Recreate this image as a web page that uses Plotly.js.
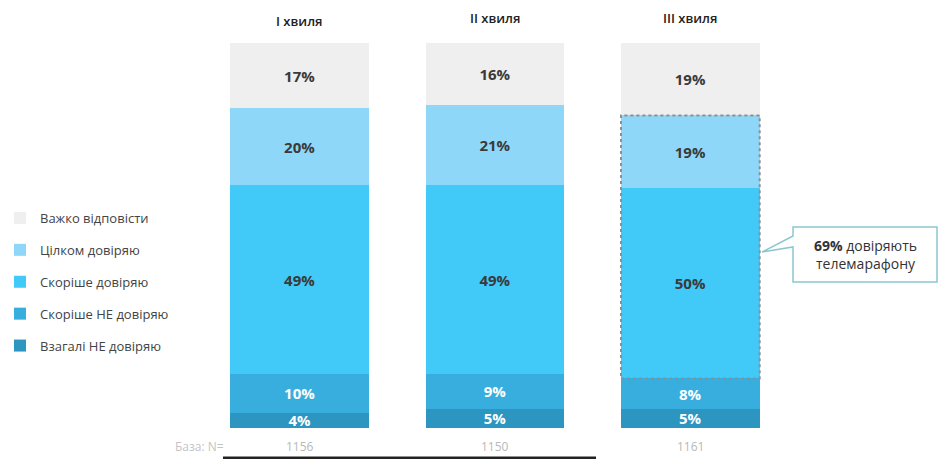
<!DOCTYPE html>
<html>
<head>
<meta charset="utf-8">
<script src="https://cdn.plot.ly/plotly-3.0.1.min.js"></script>
<style>html,body{margin:0;padding:0;background:#fff;}#chart{width:938px;height:459px;}</style>
</head>
<body>
<div id="chart"></div>
<script>
// ---- data ----
const waves = ["І хвиля", "ІІ хвиля", "ІІІ хвиля"];
const bases = [1156, 1150, 1161];
const seriesNames = ["Взагалі НЕ довіряю", "Скоріше НЕ довіряю", "Скоріше довіряю", "Цілком довіряю", "Важко відповісти"];
const notTrustAtAll = [4, 5, 5];
const ratherNotTrust = [10, 9, 8];
const ratherTrust = [49, 49, 50];
const fullyTrust = [20, 21, 19];
const hardToSay = [17, 16, 19];
const calloutValue = 69;

const seriesValues = [notTrustAtAll, ratherNotTrust, ratherTrust, fullyTrust, hardToSay];
const colors = ["#2c95c0", "#38aede", "#41c9f8", "#8fd7f8", "#efefef"];
const textColors = ["#ffffff", "#ffffff", "#3a3a3a", "#3a3a3a", "#3a3a3a"];
const FONT = "Open Sans, DejaVu Sans, sans-serif";

const xs = [0, 1, 2];
const BW = 0.71;

const traces = seriesValues.map((vals, i) => ({
  type: "bar",
  name: seriesNames[i],
  x: xs,
  y: vals,
  width: BW,
  marker: {color: colors[i], line: {width: 0}},
  text: vals.map(v => v + "%"),
  textposition: "inside",
  insidetextanchor: "middle",
  constraintext: "none",
  textfont: {family: FONT, size: 15, color: textColors[i], weight: 700},
  hoverinfo: "skip",
  legendgroup: "g" + i,
  legendrank: seriesValues.length - i
}));

// geometry helpers (pixels -> paper)
const L = 202, T = 43, W = 938 - L - 150, H = 459 - T - 31;
const px = p => (p - L) / W;
const py = p => (T + H - p) / H;

// dotted box around trust segments of last wave (normalized)
const last = 2;
const tot = seriesValues.reduce((s, a) => s + a[last], 0);
const y0 = (notTrustAtAll[last] + ratherNotTrust[last]) / tot * 100;
const y1 = y0 + (ratherTrust[last] + fullyTrust[last]) / tot * 100;

const bx0 = px(793), bx1 = px(937), by0 = py(227), by1 = py(282);
const tailTip = [px(762), py(252)], tA = py(236), tB = py(247);
const calloutPath = `M${bx0},${by0} L${bx1},${by0} L${bx1},${by1} L${bx0},${by1} L${bx0},${tB} L${tailTip[0]},${tailTip[1]} L${bx0},${tA} Z`;

const shapes = [
  {type: "rect", xref: "x", yref: "y", x0: last - BW / 2, x1: last + BW / 2, y0: y0, y1: y1,
   line: {color: "#8a8f95", width: 2, dash: "dot"}, fillcolor: "rgba(0,0,0,0)"},
  {type: "path", xref: "paper", yref: "paper", path: calloutPath,
   line: {color: "#8cc6cf", width: 1.5}, fillcolor: "#ffffff"},
  {type: "line", xref: "paper", yref: "paper", x0: px(223), x1: px(596), y0: py(458), y1: py(458),
   line: {color: "#222222", width: 3}}
];

const annotations = [];
bases.forEach((b, i) => annotations.push({
  x: xs[i], xref: "x", y: py(447), yref: "paper", text: String(b), showarrow: false,
  font: {family: FONT, size: 12, color: "#b8b8b8"}, xanchor: "center", yanchor: "middle"
}));
annotations.push({x: px(226), xref: "paper", y: py(447), yref: "paper", text: "База: N=", showarrow: false,
  font: {family: FONT, size: 12, color: "#c4c4c4"}, xanchor: "right", yanchor: "middle"});
waves.forEach((w, i) => annotations.push({
  x: xs[i], xref: "x", y: py(i === 0 ? 21 : 18), yref: "paper", text: w, showarrow: false,
  font: {family: FONT, size: 13, color: "#222222", weight: 600}, xanchor: "center", yanchor: "middle"
}));
annotations.push({x: px(865), xref: "paper", y: py(255), yref: "paper",
  text: "<b>" + calloutValue + "%</b> довіряють<br>телемарафону", showarrow: false,
  font: {family: FONT, size: 14, color: "#333333"}, xanchor: "center", yanchor: "middle", align: "center"});

const layout = {
  width: 938, height: 459,
  margin: {l: L, r: 150, t: T, b: 31, pad: 0, autoexpand: false},
  paper_bgcolor: "#ffffff", plot_bgcolor: "#ffffff",
  barmode: "stack", barnorm: "percent",
  showlegend: true,
  legend: {xref: "container", yref: "container", x: 0, xanchor: "left", y: 1 - 203 / 459, yanchor: "top",
           traceorder: "grouped",
           tracegroupgap: 12, font: {family: FONT, size: 13, color: "#444444"},
           bgcolor: "rgba(0,0,0,0)", itemwidth: 30},
  xaxis: {range: [-0.5, 2.5], showticklabels: false, showgrid: false, zeroline: false, showline: false, fixedrange: true},
  yaxis: {range: [0, 100], showticklabels: false, showgrid: false, zeroline: false, showline: false, fixedrange: true},
  shapes: shapes,
  annotations: annotations,
  font: {family: FONT}
};

Plotly.newPlot("chart", traces, layout, {displayModeBar: false, staticPlot: true});
</script>
</body>
</html>
